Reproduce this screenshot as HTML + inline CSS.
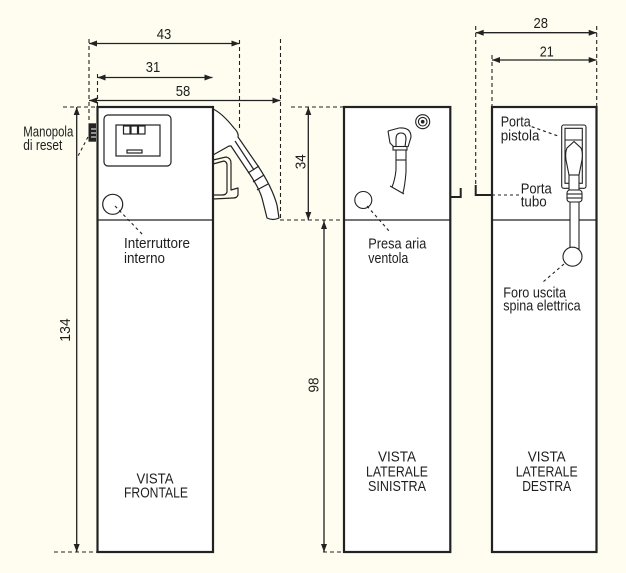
<!DOCTYPE html>
<html><head><meta charset="utf-8"><style>
html,body{margin:0;padding:0;background:#fefdf0;}
svg{display:block;}
text{font-family:"Liberation Sans Narrow","Liberation Sans",sans-serif;fill:#1e1e1e;font-size:15px;}
</style></head><body>
<svg width="626" height="573" viewBox="0 0 626 573" xmlns="http://www.w3.org/2000/svg">
<rect x="0" y="0" width="626" height="573" fill="#fefdf0"/>

<!-- dashed extension lines -->
<g stroke="#222" stroke-width="1.1" stroke-dasharray="4,3" fill="none">
  <line x1="89" y1="39" x2="89" y2="123"/>
  <line x1="97.5" y1="74" x2="97.5" y2="107"/>
  <line x1="239.5" y1="40" x2="239.5" y2="128"/>
  <line x1="280.5" y1="39" x2="280.5" y2="220"/>
  <line x1="475.7" y1="26" x2="475.7" y2="186"/>
  <line x1="492" y1="55" x2="492" y2="107"/>
  <line x1="596.7" y1="26" x2="596.7" y2="107"/>
  <line x1="63" y1="107" x2="97" y2="107"/>
  <line x1="291" y1="107" x2="344" y2="107"/>
  <line x1="280" y1="220" x2="344" y2="220"/>
  <line x1="54" y1="552" x2="97" y2="552"/>
  <line x1="323" y1="552" x2="344" y2="552"/>
  <line x1="90.7" y1="131.7" x2="77" y2="158" stroke-dasharray="3,3"/>
</g>

<!-- dimension lines -->
<g stroke="#222" stroke-width="1.3" fill="none">
  <line x1="89" y1="43.5" x2="239.5" y2="43.5"/>
  <line x1="97.5" y1="77.5" x2="212.5" y2="77.5"/>
  <line x1="89" y1="100.5" x2="280.5" y2="100.5"/>
  <line x1="475.7" y1="32.7" x2="596.7" y2="32.7"/>
  <line x1="492" y1="60" x2="596.7" y2="60"/>
  <line x1="76.7" y1="107" x2="76.7" y2="552"/>
  <line x1="308.3" y1="107" x2="308.3" y2="220"/>
  <line x1="324" y1="220" x2="324" y2="552"/>
</g>
<g fill="#222">
  <polygon points="89,43.5 97,40.5 97,46.5"/><polygon points="239.5,43.5 231.5,40.5 231.5,46.5"/>
  <polygon points="97.5,77.5 105.5,74.5 105.5,80.5"/><polygon points="212.5,77.5 204.5,74.5 204.5,80.5"/>
  <polygon points="89,100.5 97,97.5 97,103.5"/><polygon points="280.5,100.5 272.5,97.5 272.5,103.5"/>
  <polygon points="475.7,32.7 483.7,29.7 483.7,35.7"/><polygon points="596.7,32.7 588.7,29.7 588.7,35.7"/>
  <polygon points="492,60 500,57 500,63"/><polygon points="596.7,60 588.7,57 588.7,63"/>
  <polygon points="76.7,107 73.7,115 79.7,115"/><polygon points="76.7,552 73.7,544 79.7,544"/>
  <polygon points="308.3,107 305.3,115 311.3,115"/><polygon points="308.3,220 305.3,212 311.3,212"/>
  <polygon points="324,221 321,229 327,229"/><polygon points="324,552 321,544 327,544"/>
</g>

<!-- dimension labels -->
<text x="164" y="39" text-anchor="middle" textLength="14.5" lengthAdjust="spacingAndGlyphs">43</text>
<text x="153" y="72" text-anchor="middle" textLength="14.5" lengthAdjust="spacingAndGlyphs">31</text>
<text x="183" y="96" text-anchor="middle" textLength="14.5" lengthAdjust="spacingAndGlyphs">58</text>
<text x="540.7" y="28" text-anchor="middle" textLength="14.5" lengthAdjust="spacingAndGlyphs">28</text>
<text x="546.7" y="56.7" text-anchor="middle" textLength="14" lengthAdjust="spacingAndGlyphs">21</text>
<text transform="translate(70,330) rotate(-90)" text-anchor="middle" textLength="23.4" lengthAdjust="spacingAndGlyphs">134</text>
<text transform="translate(305.7,161.7) rotate(-90)" text-anchor="middle" textLength="15" lengthAdjust="spacingAndGlyphs">34</text>
<text transform="translate(318.3,385) rotate(-90)" text-anchor="middle" textLength="15" lengthAdjust="spacingAndGlyphs">98</text>

<!-- brackets -->
<g stroke="#222" stroke-width="2" fill="none">
  <polyline points="460.7,188 460.7,197 450,197"/>
  <polyline points="475.7,185 475.7,195 492,195"/>
</g>

<!-- nozzle (front view) -->
<g stroke="#222" stroke-width="1.2" fill="#fff" stroke-linejoin="round">
  <path d="M213,109 Q222,113 234,128 Q239,133 238,137 L258,166 Q272,187 277,205 L279,218 Q273,221 267,218 L262,198 Q259,188 249,173 L231,146 L229,146 L213,155 Z"/>
  <path d="M235,141 L254,170" fill="none"/>
  <path d="M248,173 L259,166 M253,182 L264,175 M257,190 L268,184" fill="none"/>
  <path d="M213,160 L226,157 Q231,158 231,163 L231,190 L238,188 L238,195 Q237,198 233,198 L213,199" fill="none"/>
  <path d="M213,164 L224,161 Q227,162 227,165 L227,192 Q226,195 222,195 L213,195" fill="none"/>
</g>

<!-- boxes -->
<g stroke="#222" stroke-width="2.2" fill="#fff">
  <rect x="97.5" y="107" width="115.5" height="445"/>
  <rect x="344" y="107" width="106.3" height="445"/>
  <rect x="492" y="107" width="104.5" height="445"/>
</g>
<g stroke="#222" stroke-width="1.2">
  <line x1="97.5" y1="220" x2="213" y2="220"/>
  <line x1="344" y1="220" x2="450.3" y2="220"/>
  <line x1="492" y1="220" x2="596.5" y2="220"/>
</g>

<!-- leaders over boxes -->
<g stroke="#222" stroke-width="1.1" stroke-dasharray="3,3" fill="none">
  <line x1="115" y1="206" x2="143" y2="235"/>
  <line x1="367" y1="206" x2="390" y2="232"/>
  <line x1="531.7" y1="126.7" x2="560" y2="136.7"/>
  <line x1="492" y1="195" x2="520" y2="195"/>
  <line x1="564" y1="264" x2="543" y2="282"/>
</g>

<!-- knob -->
<rect x="88.5" y="123.3" width="7.5" height="18.4" fill="#222"/>
<g stroke="#fff" stroke-width="1"><line x1="91" y1="129" x2="96" y2="129"/><line x1="91" y1="133" x2="96" y2="133"/><line x1="91" y1="137" x2="96" y2="137"/></g>

<!-- display -->
<g stroke="#222" stroke-width="1.2" fill="none">
  <rect x="104" y="115" width="67" height="51" rx="4"/>
  <rect x="116" y="125" width="44" height="31"/>
  <rect x="123.5" y="126" width="6.5" height="8"/>
  <rect x="131" y="126" width="6.5" height="8"/>
  <rect x="138.5" y="126" width="6.5" height="8"/>
  <rect x="127" y="150" width="15" height="3"/>
  <circle cx="112.7" cy="204.3" r="10"/>
</g>

<!-- left side details -->
<g stroke="#222" stroke-width="1.1" fill="none">
  <circle cx="422.7" cy="121.7" r="7"/>
  <circle cx="422.7" cy="121.7" r="4.3"/>
  <circle cx="422.7" cy="121.7" r="1.3" fill="#222"/>
  <path d="M388,131 L399,128 Q411,127 411,137 L408,147"/>
  <path d="M388,131 L390,143 L394,147"/>
  <path d="M396,147 L396,139 Q396,133 401,133 Q406,133 406,139 L405,147"/>
  <rect x="393" y="146.5" width="14" height="3.5"/>
  <path d="M396,150 L396,170 Q395,180 392,187"/>
  <path d="M406,150 L406,172 Q405,185 403,193"/>
  <path d="M396,160 L406,160"/>
  <path d="M390,186 L404,194"/>
  <circle cx="363.3" cy="200" r="8.5"/>
</g>

<!-- right side details -->
<g stroke="#222" stroke-width="1.1" fill="#fff">
  <rect x="561.7" y="125" width="24.3" height="63.3" rx="2"/>
  <rect x="565" y="128.3" width="17.3" height="55"/>
  <line x1="565" y1="140" x2="582.3" y2="140"/>
  <path d="M574,141.5 L567,148 Q565,152 566,160 L569,175 L579,175 L582,160 Q583,152 581,148 Z"/>
  <rect x="569" y="175" width="10" height="15"/>
  <rect x="570" y="200" width="9" height="49"/>
  <rect x="567" y="190" width="15" height="12" rx="3"/>
  <line x1="567" y1="194" x2="582" y2="194"/>
  <line x1="567" y1="198" x2="582" y2="198"/>
  <circle cx="572.5" cy="256.7" r="9.5"/>
</g>

<!-- labels -->
<text x="23.3" y="136.7" textLength="50" lengthAdjust="spacingAndGlyphs">Manopola</text>
<text x="23.3" y="150" textLength="39" lengthAdjust="spacingAndGlyphs">di reset</text>
<text x="124" y="248" textLength="66" lengthAdjust="spacingAndGlyphs">Interruttore</text>
<text x="124" y="263" textLength="41" lengthAdjust="spacingAndGlyphs">interno</text>
<text x="368.3" y="248.3" textLength="58" lengthAdjust="spacingAndGlyphs">Presa aria</text>
<text x="368.3" y="263" textLength="40" lengthAdjust="spacingAndGlyphs">ventola</text>
<text x="500.7" y="126.7" textLength="30" lengthAdjust="spacingAndGlyphs">Porta</text>
<text x="500.7" y="140.7" textLength="38.7" lengthAdjust="spacingAndGlyphs">pistola</text>
<text x="520.7" y="193.3" textLength="31" lengthAdjust="spacingAndGlyphs">Porta</text>
<text x="520.7" y="206.7" textLength="26" lengthAdjust="spacingAndGlyphs">tubo</text>
<text x="503.3" y="297.3" textLength="62.7" lengthAdjust="spacingAndGlyphs">Foro uscita</text>
<text x="503.3" y="310.7" textLength="77.3" lengthAdjust="spacingAndGlyphs">spina elettrica</text>

<text x="155" y="483.3" text-anchor="middle" textLength="37" lengthAdjust="spacingAndGlyphs">VISTA</text>
<text x="156" y="497.7" text-anchor="middle" textLength="64" lengthAdjust="spacingAndGlyphs">FRONTALE</text>

<text x="397" y="461.7" text-anchor="middle" textLength="38" lengthAdjust="spacingAndGlyphs">VISTA</text>
<text x="397" y="476.7" text-anchor="middle" textLength="62" lengthAdjust="spacingAndGlyphs">LATERALE</text>
<text x="397" y="491" text-anchor="middle" textLength="58" lengthAdjust="spacingAndGlyphs">SINISTRA</text>

<text x="546.7" y="461.7" text-anchor="middle" textLength="38" lengthAdjust="spacingAndGlyphs">VISTA</text>
<text x="546.7" y="476.7" text-anchor="middle" textLength="62" lengthAdjust="spacingAndGlyphs">LATERALE</text>
<text x="546.7" y="491" text-anchor="middle" textLength="49" lengthAdjust="spacingAndGlyphs">DESTRA</text>
</svg>
</body></html>
